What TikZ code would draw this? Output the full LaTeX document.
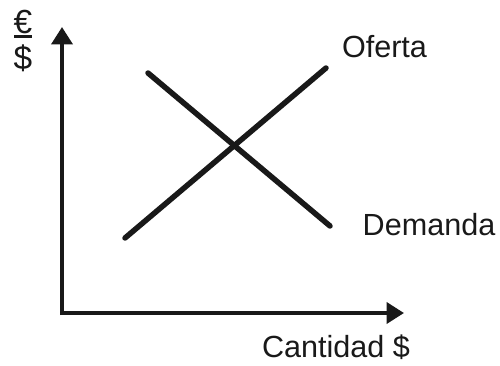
\documentclass[tikz,border=0pt]{standalone}
\usepackage{fontspec}
\setmainfont{Liberation Sans}
\usepackage{tikz}
\usetikzlibrary{positioning}
\usetikzlibrary{arrows.meta}

\begin{document}
\begin{tikzpicture}[
    axis/.style={black!90, line width=0.08cm, -{Triangle[length=0.35cm, width=0.42cm]}},
    curve/.style={black!90, line width=0.11cm, line cap=round},
    lbl/.style={font=\fontsize{17.4}{20}\selectfont, text=black!90, inner sep=0pt, anchor=base}
]
\useasboundingbox (0,0) rectangle (10,7.3);

% AXES %
{
\coordinate (origin) at (1.24,1.04);
\coordinate (ytip) at (1.24,6.76);
\coordinate (xtip) at (8.08,1.04);

\draw[axis] ([yshift=-0.04cm]origin) -- (ytip);
\draw[axis] (origin) -- (xtip);
}

% curves %
{
\coordinate (of1) at (2.5,2.54);
\coordinate (of2) at (6.52,5.94);
\coordinate (de1) at (2.96,5.84);
\coordinate (de2) at (6.6,2.78);

\draw[curve] (of1) -- (of2);
\draw[curve] (de1) -- (de2);
}

% labellings %
{
\node[lbl] (oferta) at (7.69,6.14) {Oferta};
\node[lbl] (demanda) at (8.58,2.6) {Demanda};
\node[lbl] (cantidad) at (6.72,0.16) {Cantidad \$};

\node[lbl, font=\fontsize{19}{22}\selectfont] (euro) at (0.46,6.62) {€};
\node[lbl, font=\fontsize{19}{22}\selectfont] (dolar) at (0.46,5.9) {\$};
\draw[black!90, line width=0.06cm] (0.28,6.56) -- (0.64,6.56);
}

\end{tikzpicture}
\end{document}
